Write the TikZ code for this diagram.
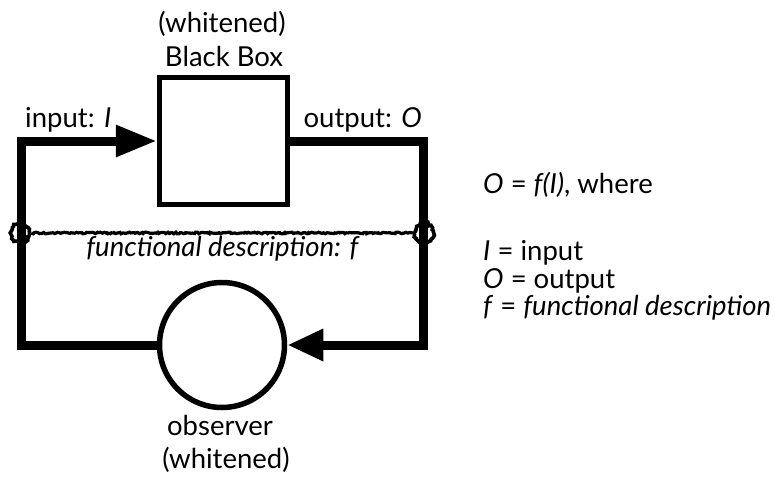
\documentclass[tikz,border=0pt]{standalone}
\usepackage{fontspec}
\setmainfont{Lato}
\usetikzlibrary{arrows.meta,decorations.pathmorphing}
\begin{document}
\begin{tikzpicture}[x=1pt,y=-1pt,
  loopline/.style={line width=9pt, line join=miter},
  blockbox/.style={draw, line width=5.5pt, inner sep=0pt},
  rough/.style={line width=3.2pt, decorate,
    decoration={random steps, segment length=1.6pt, amplitude=0.8pt}},
  tap/.style={draw, circle, minimum size=19pt, inner sep=0pt, line width=3.6pt,
    decorate, decoration={random steps, segment length=1.8pt, amplitude=1.1pt}},
  lbl/.style={font=\fontsize{27.5}{29}\selectfont, inner sep=0pt}]
\pgfmathsetseed{7}
\useasboundingbox (0,0) rectangle (775,476);

% blocks
\node[blockbox, minimum width=128pt, minimum height=127pt] (bb) at (223.5,141) {};
\node[blockbox, circle, minimum size=125pt] (obs) at (222,345) {};

% loop corners
\coordinate (tl) at (21,141);
\coordinate (tr) at (423,141);
\coordinate (br) at (423,345);
\coordinate (bl) at (21,345);

% feedback loop
\draw[loopline, -{Triangle[length=41pt,width=30pt]}] (obs.west) -- (bl) -- (tl) -- (bb.west);
\draw[loopline, -{Triangle[length=36pt,width=30pt]}] (bb.east) -- (tr) -- (br) -- (obs.east);

% functional description tie
\node[tap] (fl) at (20,233) {};
\node[tap] (fr) at (424,233) {};
\draw[rough] (fl.east) -- (fr.west);

% labels
\node[lbl, anchor=base] (bbw) at (222,33) {(whitened)};
\node[lbl, anchor=base] (bbn) at (224,67) {Black Box};
\node[lbl, anchor=base west] (inl) at (25,127) {input: \textit{I}};
\node[lbl, anchor=base east] (outl) at (422,127) {output: \textit{O}};
\node[lbl, anchor=base] (fdl) at (223,256) {\textit{functional description: f}};
\node[lbl, anchor=base] (obn) at (220,435) {observer};
\node[lbl, anchor=base] (obw) at (226,468) {(whitened)};

% legend
\node[lbl, anchor=base west] (eq) at (483,193) {\textit{O} = \textit{f(I)}, where};
\node[lbl, anchor=base west] (d1) at (483,260) {\textit{I} = input};
\node[lbl, anchor=base west] (d2) at (483,288) {\textit{O} = output};
\node[lbl, anchor=base west] (d3) at (483,315) {\textit{f} = \textit{functional description}};
\end{tikzpicture}
\end{document}
